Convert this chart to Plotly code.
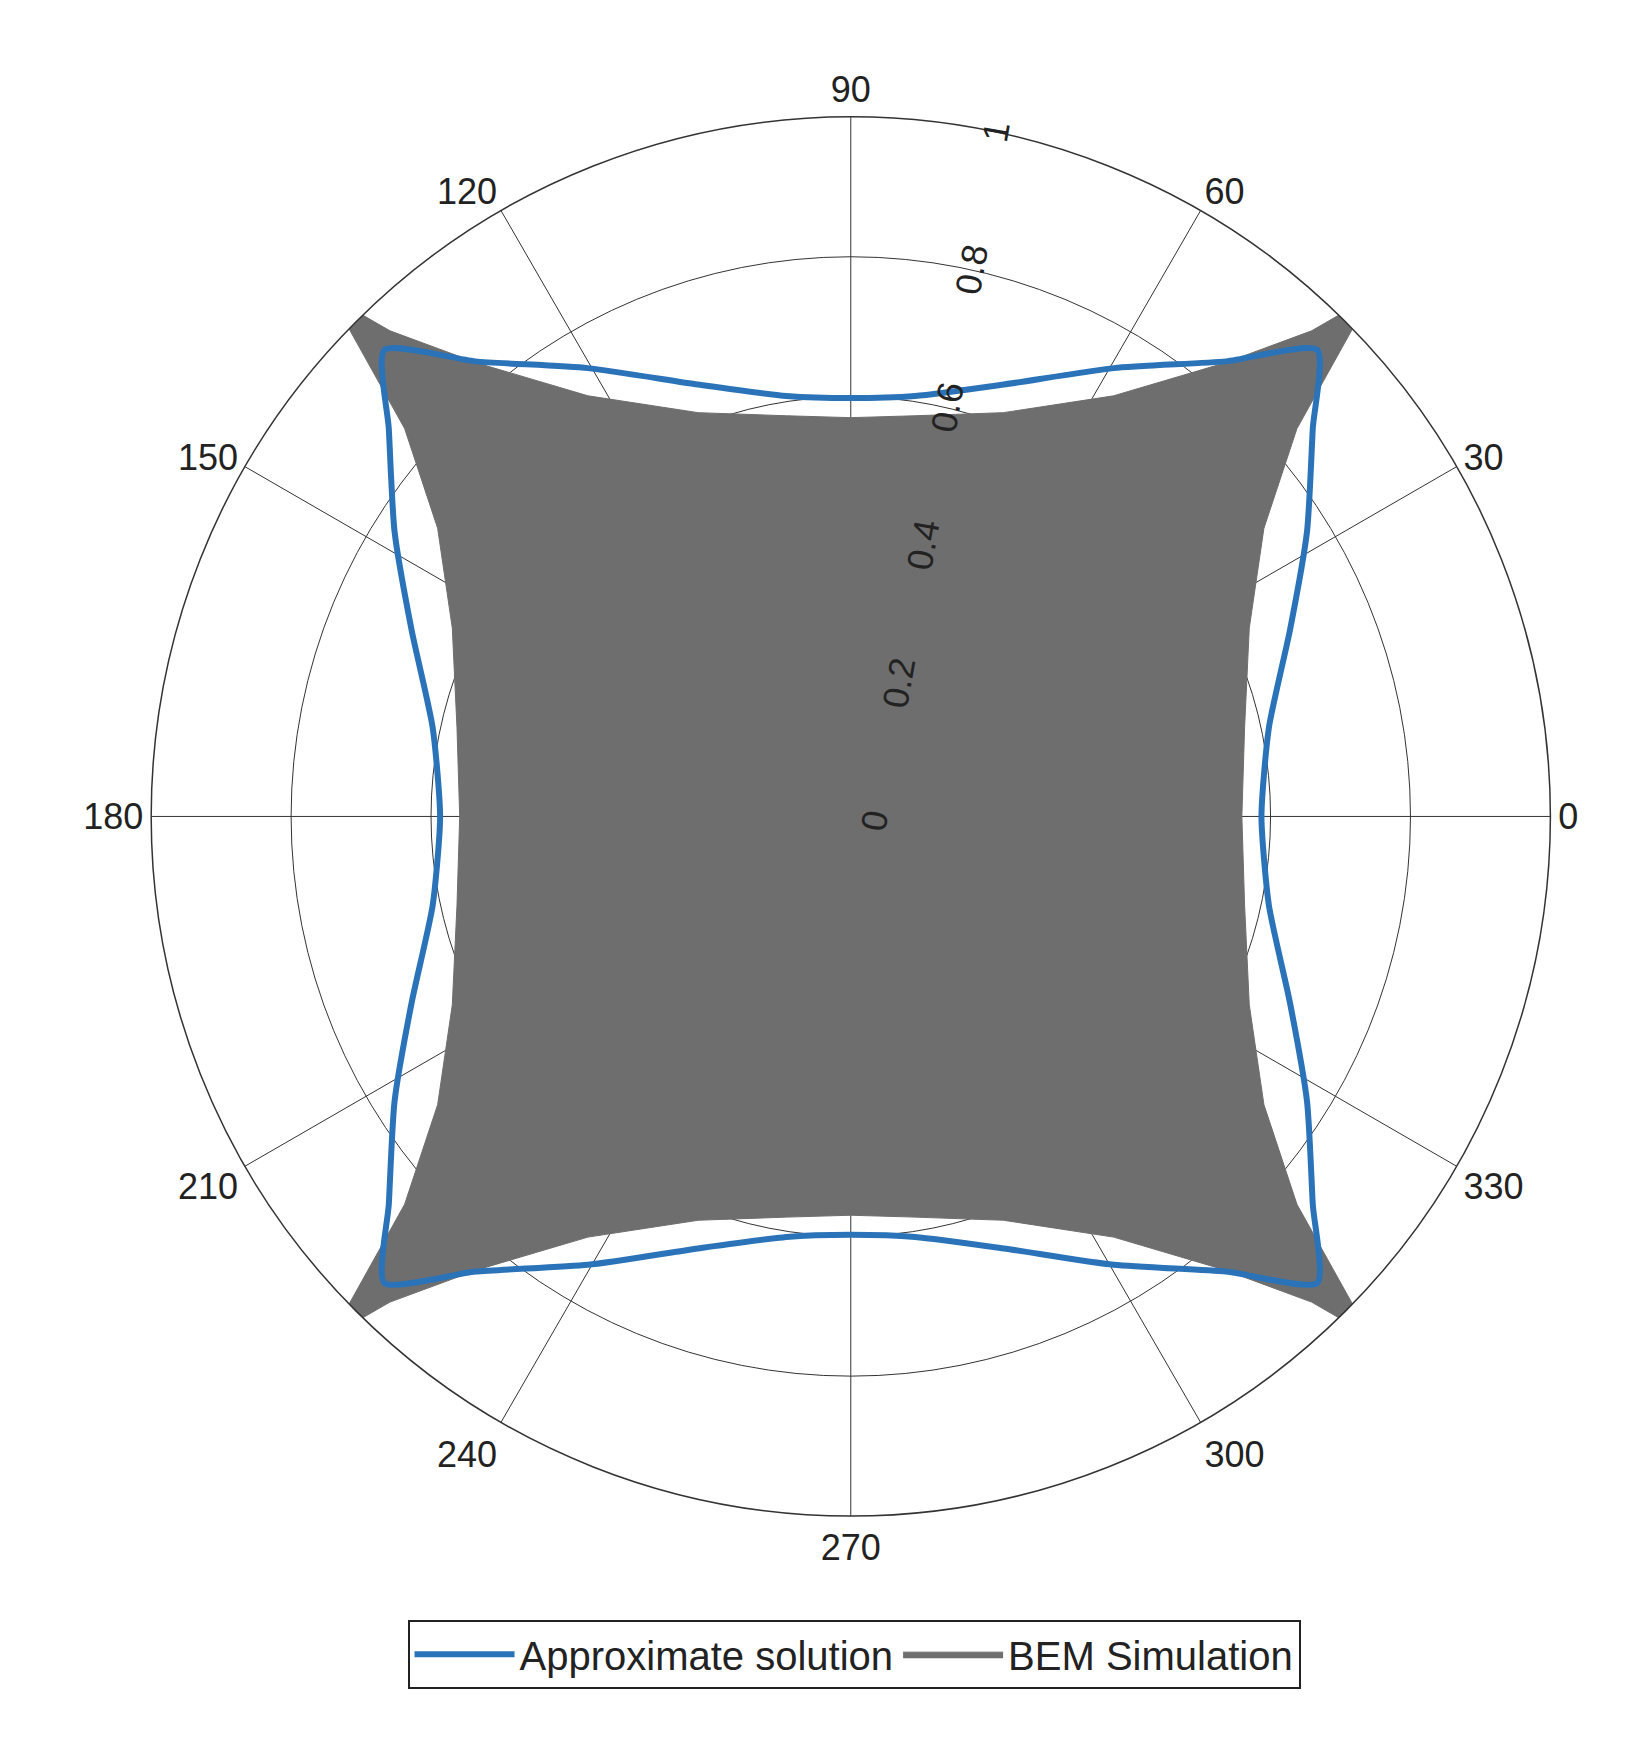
import plotly.graph_objects as go

# First quadrant readings (deg, r); the pattern is symmetric about the axes
approx_theta_q = [0, 12, 23, 32, 40, 45, 50.5, 59.6, 70.5, 81.3, 90]
approx_r_q = [0.587, 0.611, 0.682, 0.769, 0.862, 0.943, 0.843, 0.743, 0.655, 0.608, 0.598]
bem_theta_q = [0, 12.7, 25.3, 34.9, 41, 45, 46.5, 50.5, 58, 69.3, 80.9, 90]
bem_r_q = [0.559, 0.577, 0.630, 0.720, 0.845, 1.05, 0.957, 0.84, 0.709, 0.617, 0.580, 0.57]

def full(th, r):
    T, R = [], []
    for k in range(4):
        seq = list(zip(th, r)) if k % 2 == 0 else [(90 - t, v) for t, v in reversed(list(zip(th, r)))]
        for t, v in seq[(1 if k else 0):]:
            T.append(t + 90 * k); R.append(v)
    return T, R

at, ar = full(approx_theta_q, approx_r_q)
bt, br = full(bem_theta_q, bem_r_q)

fig = go.Figure()
fig.add_trace(go.Scatterpolar(theta=at, r=ar, mode="lines", name="Approximate solution",
                              line=dict(color="#2b73b8", width=6, shape="spline", smoothing=0.6),
                              cliponaxis=False))
fig.add_trace(go.Scatterpolar(theta=bt, r=br, mode="lines", name="BEM Simulation", fill="toself",
                              fillcolor="#6e6e6e", line=dict(color="#6e6e6e", width=1),
                              cliponaxis=False))
fig.data = fig.data[::-1]
fig.update_layout(
    width=1627, height=1748, paper_bgcolor="white", plot_bgcolor="white",
    margin=dict(l=0, r=0, t=0, b=0),
    font=dict(family="Liberation Sans, Arial", size=34, color="#222"),
    polar=dict(
        domain=dict(x=[0.088, 0.948], y=[0.137, 0.938]),
        bgcolor="white",
        angularaxis=dict(rotation=0, direction="counterclockwise", dtick=30,
                         tickvals=list(range(0, 360, 30)),
                         gridcolor="#333", gridwidth=1, linecolor="#333", linewidth=1.5,
                         ticks="", tickfont=dict(size=36)),
        radialaxis=dict(range=[0, 1], tickvals=[0, 0.2, 0.4, 0.6, 0.8, 1],
                        ticktext=["0", "0.2", "0.4", "0.6", "0.8", "1"],
                        angle=80, tickangle=0, showline=False, ticks="",
                        gridcolor="#333", gridwidth=1, tickfont=dict(size=36)),
    ),
    legend=dict(orientation="h", x=0.52, xanchor="center", y=0.078, yanchor="top",
                bordercolor="#222", borderwidth=2, font=dict(size=40),
                traceorder="reversed", itemwidth=100),
)
fig.write_html("out.html")
